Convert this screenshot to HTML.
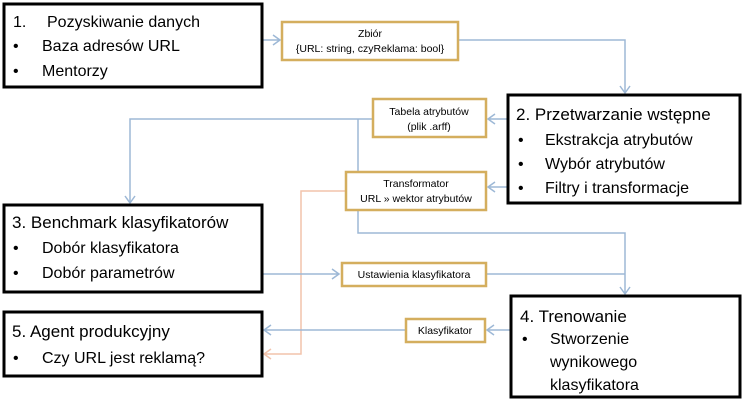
<!DOCTYPE html>
<html><head><meta charset="utf-8"><style>
html,body{margin:0;padding:0;background:#fff;}
svg{display:block;font-family:"Liberation Sans",sans-serif;}
.b{fill:#fff;stroke:#000;stroke-width:3}
.s{fill:#fff;stroke:#D4AE5E;stroke-width:2.5}
.l{fill:none;stroke:#9DB8D6;stroke-width:1.5}
.p{fill:none;stroke:#F2C3AC;stroke-width:1.5}
.t{font-size:16px;fill:#000}
.st{font-size:10.5px;fill:#000;text-anchor:middle}
</style></head><body>
<svg width="742" height="411" viewBox="0 0 742 411">
<path class="l" d="M262 40 H280 M273 35 L280 40 L273 45"/>
<path class="l" d="M458 40 H625 V93 M620 86 L625 93 L630 86"/>
<path class="l" d="M508 119 H488 M495 114 L488 119 L495 124"/>
<path class="l" d="M372 119 H130 V203 M125 196 L130 203 L135 196"/>
<path class="l" d="M358 119 V233 H625 V294 M620 287 L625 294 L630 287"/>
<path class="l" d="M508 187 H488 M495 182 L488 187 L495 192"/>
<path class="p" d="M346 191 H301 V354 H264 M271 349 L264 354 L271 359"/>
<path class="l" d="M262 274 H339 M332 269 L339 274 L332 279"/>
<path class="l" d="M486 274 H625"/>
<path class="l" d="M511 330 H487 M494 325 L487 330 L494 335"/>
<path class="l" d="M405 330 H264 M271 325 L264 330 L271 335"/>
<rect class="s" x="282" y="22" width="176" height="38"/>
<text class="st" x="370" y="37">Zbiór</text>
<text class="st" x="370" y="52">{URL: string, czyReklama: bool}</text>
<rect class="s" x="373" y="99" width="113" height="38"/>
<text class="st" x="429" y="115">Tabela atrybutów</text>
<text class="st" x="429" y="130">(plik .arff)</text>
<rect class="s" x="346" y="172" width="140" height="38"/>
<text class="st" x="416" y="187">Transformator</text>
<text class="st" x="416" y="202">URL » wektor atrybutów</text>
<rect class="s" x="342" y="263" width="144" height="23"/>
<text class="st" x="414" y="278">Ustawienia klasyfikatora</text>
<rect class="s" x="406" y="319" width="79" height="23"/>
<text class="st" x="445" y="334">Klasyfikator</text>
<rect class="b" x="4" y="4" width="258" height="83"/>
<text class="t" x="13" y="27">1.</text><text class="t" x="47" y="27">Pozyskiwanie danych</text>
<text class="t" x="13" y="51">•</text><text class="t" x="42" y="51">Baza adresów URL</text>
<text class="t" x="13" y="76">•</text><text class="t" x="42" y="76">Mentorzy</text>
<rect class="b" x="508" y="95" width="232" height="108"/>
<text class="t" x="516" y="120" style="font-size:17px">2. Przetwarzanie wstępne</text>
<text class="t" x="518" y="145">•</text><text class="t" x="545" y="145">Ekstrakcja atrybutów</text>
<text class="t" x="518" y="169">•</text><text class="t" x="545" y="169">Wybór atrybutów</text>
<text class="t" x="518" y="193">•</text><text class="t" x="545" y="193">Filtry i transformacje</text>
<rect class="b" x="4" y="205" width="258" height="87"/>
<text class="t" x="12" y="228" style="font-size:17px">3. Benchmark klasyfikatorów</text>
<text class="t" x="13" y="253">•</text><text class="t" x="42" y="253">Dobór klasyfikatora</text>
<text class="t" x="13" y="278">•</text><text class="t" x="42" y="278">Dobór parametrów</text>
<rect class="b" x="4" y="312" width="258" height="64"/>
<text class="t" x="12" y="337" style="font-size:17px">5. Agent produkcyjny</text>
<text class="t" x="13" y="363">•</text><text class="t" x="42" y="363">Czy URL jest reklamą?</text>
<rect class="b" x="511" y="296" width="229" height="101"/>
<text class="t" x="520" y="322" style="font-size:17px">4. Trenowanie</text>
<text class="t" x="522" y="344">•</text><text class="t" x="550" y="344">Stworzenie</text>
<text class="t" x="550" y="367">wynikowego</text>
<text class="t" x="550" y="390">klasyfikatora</text>
</svg>
</body></html>
